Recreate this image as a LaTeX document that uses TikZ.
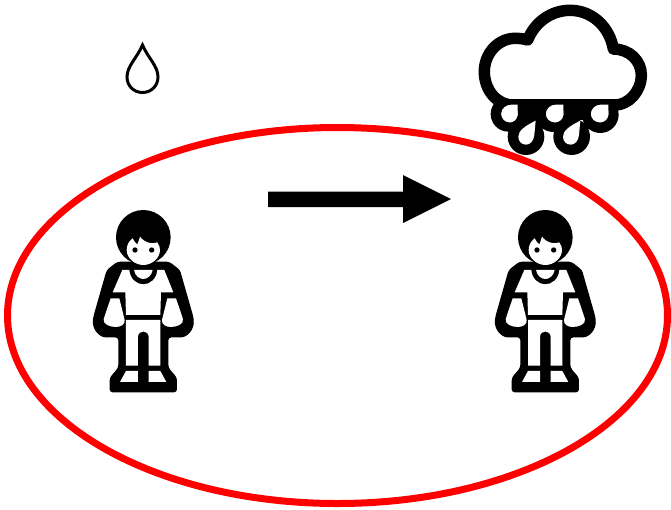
\documentclass[tikz,border=0pt]{standalone}
\usetikzlibrary{arrows.meta}
\tikzset{
  px/.style={x=1pt,y=-1pt},
  ink/.style={fill=black,draw=none},
  paper/.style={fill=white,draw=none},
  person/.pic={
    \begin{scope}[x=0.3333pt,y=-0.3333pt]
      % silhouette
      \path[ink,rounded corners=3pt] (112,170) -- (268,170) -- (300,195) -- (340,335) .. controls (345,375) and (320,397) .. (295,397) -- (265,397) -- (265,488) -- (291,518) -- (291,562) -- (89,562) -- (89,518) -- (115,488) -- (115,397) -- (85,397) .. controls (60,397) and (35,375) .. (40,335) -- (80,195) -- cycle;
      \path[ink] (190,97) circle[radius=82];
      % face
      \path[paper] (140,135) .. controls (140,120) and (147,108) .. (158,100) .. controls (162,108) and (166,114) .. (172,118) .. controls (175,110) and (178,104) .. (180,95) .. controls (195,115) and (220,118) .. (232,112) .. controls (238,120) and (240,128) .. (240,135) .. controls (240,160) and (215,180) .. (190,180) .. controls (165,180) and (140,160) .. (140,135) -- cycle;
      \path[ink] (165,135) circle[radius=8] (215,135) circle[radius=8];
      % shirt
      \path[paper] (127,195) -- (148,195) .. controls (150,222) and (170,238) .. (190,238) .. controls (210,238) and (230,222) .. (232,195) -- (253,195) -- (280,262) -- (243,262) -- (241,330) -- (138,330) -- (136,262) -- (98,262) -- cycle;
      \path[ink] (162,195) .. controls (165,212) and (178,222) .. (190,222) .. controls (202,222) and (215,212) .. (218,195) -- cycle;
      \path[paper] (162,195) .. controls (165,212) and (178,222) .. (190,222) .. controls (202,222) and (215,212) .. (218,195) -- cycle;
      % arms
      \path[paper] (92,280) -- (118,280) -- (134,345) .. controls (136,358) and (122,366) .. (108,366) .. controls (90,366) and (68,358) .. (71,342) -- cycle;
      \path[paper] (288,280) -- (262,280) -- (246,345) .. controls (244,358) and (258,366) .. (272,366) .. controls (290,366) and (312,358) .. (309,342) -- cycle;
      % trousers
      \path[paper] (138,345) -- (241,345) -- (241,482) -- (206,482) -- (206,396) .. controls (206,374) and (174,374) .. (174,396) -- (174,482) -- (138,482) -- cycle;
      % shoes
      \path[paper] (138,498) -- (174,498) -- (174,531) -- (120,531) -- cycle;
      \path[paper] (241,498) -- (206,498) -- (206,531) -- (259,531) -- cycle;
    \end{scope}
  },
  cloudline/.style={draw=black,line width=11.5pt,fill=white,line join=round},
  ring/.style={draw=red,line width=7pt},
  shaft/.style={ink},
  dropline/.style={draw=black,line width=3pt,line join=miter,fill=white},
}
\begin{document}
\begin{tikzpicture}[px]
  \useasboundingbox[fill=white] (0,0) rectangle (671,509);

  % small drop
  \path[dropline] (142.5,45) .. controls (148,58) and (158,66) .. (158,77) .. controls (158,86) and (151,92.5) .. (142.5,92.5) .. controls (134,92.5) and (127,86) .. (127,77) .. controls (127,66) and (137,58) .. (142.5,45) -- cycle;

  % rain cloud
  \begin{scope}[shift={(470,0)},x=0.3333pt,y=-0.3333pt]
    \path[ink] (115,342) circle[radius=53] (250,342) circle[radius=54] (391,344) circle[radius=55] (168,410) circle[radius=55] (305,410) circle[radius=55];
    \path[ink] (115,300) rectangle (391,360);
    \path[ink] (165,350) rectangle (305,385);
    \path[paper] (143,314) -- (143,345) .. controls (141,358) and (130,367) .. (120,367) .. controls (105,367) and (94,355) .. (94,342) .. controls (94,325) and (108,314) .. (125,314) -- cycle;
    \path[paper] (280,314) -- (280,345) .. controls (278,358) and (267,367) .. (255,367) .. controls (240,367) and (228,355) .. (228,342) .. controls (228,325) and (242,314) .. (258,314) -- cycle;
    \path[paper] (415,314) -- (415,345) .. controls (413,358) and (402,367) .. (390,367) .. controls (375,367) and (363,355) .. (363,342) .. controls (363,325) and (377,314) .. (393,314) -- cycle;
    \path[paper] (197,362) -- (193,405) .. controls (191,424) and (180,434) .. (168,434) .. controls (154,434) and (145,423) .. (145,410) .. controls (145,392) and (165,378) .. (197,362) -- cycle;
    \path[paper] (331,362) -- (327,405) .. controls (325,424) and (314,434) .. (302,434) .. controls (288,434) and (279,423) .. (279,410) .. controls (279,392) and (299,378) .. (331,362) -- cycle;
    \path[cloudline] (130,315) .. controls (80,315) and (43,270) .. (43,215) .. controls (43,160) and (85,115) .. (135,115) .. controls (150,115) and (165,117) .. (173,120) .. controls (195,65) and (245,31) .. (300,31) .. controls (370,31) and (420,85) .. (430,147) .. controls (478,147) and (514,182) .. (514,225) .. controls (514,275) and (475,315) .. (435,315) -- cycle;
    \path[ink] (110,298) rectangle (450,330);
    \path[paper] (94,342) .. controls (94,325) and (108,314) .. (125,314) -- (143,314) -- (143,345) .. controls (141,358) and (130,367) .. (120,367) .. controls (105,367) and (94,355) .. (94,342) -- cycle;
    \path[paper] (228,342) .. controls (228,325) and (242,314) .. (258,314) -- (280,314) -- (280,345) .. controls (278,358) and (267,367) .. (255,367) .. controls (240,367) and (228,355) .. (228,342) -- cycle;
    \path[paper] (363,342) .. controls (363,325) and (377,314) .. (393,314) -- (415,314) -- (415,345) .. controls (413,358) and (402,367) .. (390,367) .. controls (375,367) and (363,355) .. (363,342) -- cycle;
  \end{scope}

  % persons
  \pic at (80,205) {person};
  \pic at (482,205) {person};

  % arrow
  \path[shaft] (268,191.5) -- (403,191.5) -- (403,175) -- (451,199) -- (403,223) -- (403,207) -- (268,207) -- cycle;

  % red ellipse
  \path[ring] (337.5,315.5) ellipse[x radius=330,y radius=188];
\end{tikzpicture}
\end{document}
